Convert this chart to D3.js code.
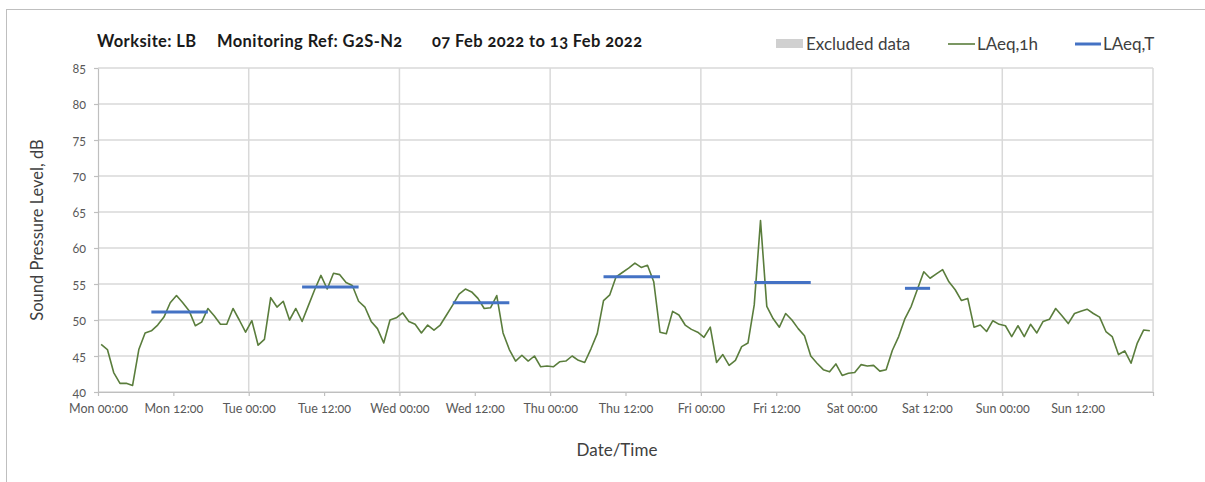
<!DOCTYPE html>
<html>
<head>
<meta charset="utf-8">
<script src="https://cdn.jsdelivr.net/npm/d3@7"></script>
<style>
  body { margin: 0; background: #fff; }
  svg text { font-family: Lato, "Open Sans", sans-serif; font-variant-numeric: oldstyle-nums; }
  .grid line { stroke: #d9d9d9; stroke-width: 1.5; }
  .axis path, .axis line { stroke: #bfbfbf; stroke-width: 1.2; }
  .axis text { fill: #595959; font-size: 12.5px; }
</style>
</head>
<body>
<svg width="1205" height="482"></svg>
<script>
// hourly LAeq,1h from Mon 07 Feb 2022 00:00, one value per hour
const laeq1h = [
  46.6, 45.9, 42.7, 41.2, 41.2, 40.9, 45.9, 48.2, 48.5, 49.3, 50.4, 52.4,
  53.4, 52.4, 51.3, 49.2, 49.7, 51.6, 50.6, 49.4, 49.4, 51.6, 50.0, 48.3,
  49.9, 46.5, 47.3, 53.1, 51.8, 52.6, 50.0, 51.6, 49.8, 52.0, 54.2, 56.2,
  54.3, 56.5, 56.3, 55.2, 54.8, 52.6, 51.8, 49.8, 48.8, 46.8, 50.0, 50.3,
  51.0, 49.8, 49.4, 48.2, 49.3, 48.6, 49.3, 50.7, 52.1, 53.6, 54.3, 53.9,
  53.0, 51.6, 51.7, 53.4, 48.2, 45.9, 44.3, 45.1, 44.3, 45.0, 43.5, 43.6,
  43.5, 44.2, 44.3, 45.0, 44.4, 44.1, 46.0, 48.1, 52.7, 53.5, 56.0, 56.6,
  57.2, 57.9, 57.3, 57.6, 55.3, 48.3, 48.1, 51.2, 50.7, 49.3, 48.7, 48.3,
  47.6, 49.0, 44.1, 45.2, 43.7, 44.4, 46.3, 46.8, 52.1, 63.8, 51.9, 50.2,
  49.0, 50.9, 50.0, 48.8, 47.8, 45.0, 44.0, 43.1, 42.8, 43.9, 42.3, 42.6,
  42.7, 43.8, 43.6, 43.7, 42.9, 43.1, 45.8, 47.7, 50.2, 51.9, 54.3, 56.7,
  55.8, 56.4, 57.0, 55.3, 54.2, 52.7, 53.0, 49.0, 49.3, 48.4, 49.9, 49.4,
  49.2, 47.7, 49.2, 47.7, 49.4, 48.2, 49.8, 50.1, 51.6, 50.6, 49.5, 50.9,
  51.2, 51.5, 50.9, 50.4, 48.4, 47.7, 45.2, 45.7, 44.0, 46.8, 48.6, 48.5
];

// LAeq,T periods: first and last hour index and level
const periodStart = [8, 32, 56, 80, 104, 128];
const periodEnd = [17, 41, 65, 89, 113, 132];
const laeqT = [51.1, 54.6, 52.4, 56.0, 55.2, 54.4];

const yTicks = [40, 45, 50, 55, 60, 65, 70, 75, 80, 85];
const startDate = new Date(2022, 1, 7, 0, 0);
const endDate = new Date(2022, 1, 14, 0, 0);

const titleParts = ["Worksite: LB", "Monitoring Ref: G2S-N2", "07 Feb 2022 to 13 Feb 2022"];
const titleX = [97, 217, 432];

const svg = d3.select("svg");

// outer chart frame
svg.append("rect")
  .attr("x", 6.5).attr("y", 9.5)
  .attr("width", 1220).attr("height", 500)
  .attr("fill", "none")
  .attr("stroke", "#bfbfbf");

const plotLeft = 98, plotRight = 1153, plotTop = 68, plotBottom = 392;

// point at the middle of each hour
const hourTime = i => d3.timeMinute.offset(startDate, i * 60 + 30);

const x = d3.scaleTime()
  .domain([startDate, endDate])
  .range([plotLeft, plotRight]);

const y = d3.scaleLinear()
  .domain([40, 85])
  .range([plotBottom, plotTop]);

// horizontal grid
svg.append("g")
  .attr("class", "grid")
  .selectAll("line")
  .data(yTicks)
  .join("line")
  .attr("x1", plotLeft).attr("x2", plotRight)
  .attr("y1", d => y(d)).attr("y2", d => y(d));

// vertical grid at midnight
svg.append("g")
  .attr("class", "grid")
  .selectAll("line")
  .data(d3.timeDay.range(d3.timeDay.offset(startDate, 1), d3.timeDay.offset(endDate, 1)))
  .join("line")
  .attr("x1", d => x(d)).attr("x2", d => x(d))
  .attr("y1", plotTop).attr("y2", plotBottom);

const fmt = d3.timeFormat("%a %H:%M");

const xAxis = d3.axisBottom(x)
  .tickValues(d3.timeHour.every(12).range(startDate, d3.timeHour.offset(endDate, 1)))
  .tickFormat(d => +d === +endDate ? "" : fmt(d))
  .tickSize(4)
  .tickPadding(8)
  .tickSizeOuter(0);

svg.append("g")
  .attr("class", "axis")
  .attr("transform", `translate(0,${plotBottom})`)
  .call(xAxis);

const yAxis = d3.axisLeft(y)
  .tickValues(yTicks)
  .tickSize(4)
  .tickPadding(8)
  .tickSizeOuter(0);

svg.append("g")
  .attr("class", "axis")
  .attr("transform", `translate(${plotLeft},0)`)
  .call(yAxis);

// LAeq,1h
const line = d3.line()
  .x((d, i) => x(hourTime(i)))
  .y(d => y(d));

svg.append("path")
  .datum(laeq1h)
  .attr("fill", "none")
  .attr("stroke", "#5a7d3c")
  .attr("stroke-width", 1.6)
  .attr("stroke-linejoin", "round")
  .attr("d", line);

// LAeq,T
svg.append("g")
  .selectAll("line")
  .data(laeqT)
  .join("line")
  .attr("x1", (d, i) => x(hourTime(periodStart[i])))
  .attr("x2", (d, i) => x(hourTime(periodEnd[i])))
  .attr("y1", d => y(d))
  .attr("y2", d => y(d))
  .attr("stroke", "#4472c4")
  .attr("stroke-width", 3);

// titles
svg.append("g")
  .selectAll("text")
  .data(titleParts)
  .join("text")
  .attr("x", (d, i) => titleX[i]).attr("y", 47)
  .attr("font-size", 16.5)
  .attr("letter-spacing", 0.4)
  .attr("font-weight", "bold")
  .attr("fill", "#1a1a1a")
  .text(d => d);

svg.append("text")
  .attr("transform", `translate(43,${(plotTop + plotBottom) / 2}) rotate(-90)`)
  .attr("text-anchor", "middle")
  .attr("font-size", 16.5)
  .attr("fill", "#404040")
  .text("Sound Pressure Level, dB");

svg.append("text")
  .attr("x", 617).attr("y", 456)
  .attr("text-anchor", "middle")
  .attr("font-size", 17)
  .attr("fill", "#404040")
  .text("Date/Time");

// legend
const legend = svg.append("g").attr("font-size", 17).attr("fill", "#404040");
legend.append("rect")
  .attr("x", 776).attr("y", 39).attr("width", 27).attr("height", 9)
  .attr("fill", "#d0d0d0");
legend.append("text").attr("x", 806).attr("y", 50).text("Excluded data");
legend.append("line")
  .attr("x1", 948).attr("x2", 975).attr("y1", 44).attr("y2", 44)
  .attr("stroke", "#5a7d3c").attr("stroke-width", 1.6);
legend.append("text").attr("x", 977).attr("y", 50).text("LAeq,1h");
legend.append("line")
  .attr("x1", 1075).attr("x2", 1101).attr("y1", 44).attr("y2", 44)
  .attr("stroke", "#4472c4").attr("stroke-width", 3);
legend.append("text").attr("x", 1103).attr("y", 50).text("LAeq,T");
</script>
</body>
</html>
